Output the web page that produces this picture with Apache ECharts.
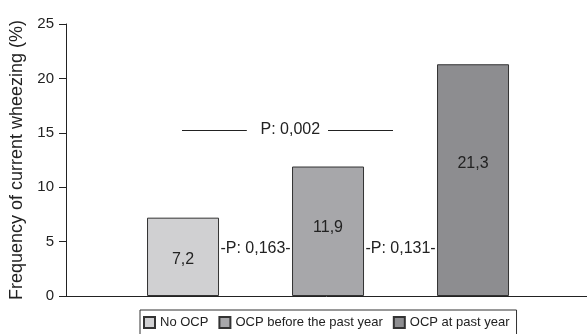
<!DOCTYPE html>
<html>
<head>
<meta charset="utf-8">
<script src="https://cdn.jsdelivr.net/npm/echarts@6/dist/echarts.min.js"></script>
<style>
html,body{margin:0;padding:0;background:#fff;}
#c{width:587px;height:334px;}
</style>
</head>
<body>
<div id="c"></div>
<script>
var categories = ['No OCP', 'OCP before the past year', 'OCP at past year'];
var values = [7.2, 11.9, 21.3];
var valueLabels = ['7,2', '11,9', '21,3'];
var yTicks = [0, 5, 10, 15, 20, 25];
var pLabels = ['-P: 0,163-', '-P: 0,131-', 'P: 0,002'];

var colors = ['#d0d0d2', '#a7a7aa', '#8d8d90'];
var labelOffsets = [[0, 3], [0, -4], [0, -17]];
var FONT = '"Liberation Sans", Arial, Helvetica, sans-serif';

var chart = echarts.init(document.getElementById('c'), null, {renderer: 'canvas'});

var series = categories.map(function (name, i) {
  return {
    name: name,
    type: 'bar',
    barWidth: 72,
    barGap: '-100%',
    data: [[i, values[i]]],
    itemStyle: {color: colors[i], borderColor: '#333', borderWidth: 1},
    label: {
      show: true,
      position: 'inside',
      offset: labelOffsets[i],
      formatter: function () { return valueLabels[i]; },
      color: '#222',
      fontSize: 16,
      fontFamily: FONT
    },
    emphasis: {disabled: true},
    animation: false
  };
});

chart.setOption({
  animation: false,
  textStyle: {fontFamily: FONT},
  grid: {left: 66, right: 0, top: 24, bottom: 38, containLabel: false},
  xAxis: {
    type: 'value',
    min: -0.807,
    max: 2.786,
    splitLine: {show: false},
    axisTick: {show: false},
    axisLabel: {show: false},
    axisLine: {show: true, onZero: false, lineStyle: {color: '#222', width: 1}}
  },
  yAxis: {
    type: 'value',
    min: yTicks[0],
    max: yTicks[yTicks.length - 1],
    interval: yTicks[1] - yTicks[0],
    name: 'Frequency of current wheezing (%)',
    nameLocation: 'middle',
    nameGap: 34,
    nameTextStyle: {fontSize: 18, color: '#222', fontFamily: FONT},
    splitLine: {show: false},
    axisLine: {show: true, onZero: false, lineStyle: {color: '#222', width: 1}},
    axisTick: {show: true, length: 7, lineStyle: {color: '#222'}},
    axisLabel: {fontSize: 15, color: '#222', margin: 12, fontFamily: FONT}
  },
  legend: {
    left: 140,
    top: 310,
    orient: 'horizontal',
    itemWidth: 11,
    itemHeight: 11,
    itemGap: 10,
    itemTextGap: 5,
    padding: [6, 7, 8, 3],
    borderColor: '#333',
    borderWidth: 1,
    icon: 'rect',
    selectedMode: false,
    data: categories,
    textStyle: {fontSize: 13, color: '#222', fontFamily: FONT}
  },
  series: series
});

// P-value annotations anchored in data coordinates
var pAnchors = [[0.5, 4.4], [1.5, 4.4], [0.74, 15.3]];
var lineSegs = [[[-0.007, 15.3], [0.44, 15.3]], [[1.0, 15.3], [1.448, 15.3]]];
function px(p) { return chart.convertToPixel({gridIndex: 0}, p); }
var elements = [];
pLabels.forEach(function (t, i) {
  var p = px(pAnchors[i]);
  elements.push({
    type: 'text', x: p[0], y: p[1], silent: true,
    style: {text: t, fill: '#222', font: '16px ' + FONT, align: 'center', verticalAlign: 'middle'}
  });
});
lineSegs.forEach(function (s) {
  var a = px(s[0]), b = px(s[1]);
  elements.push({
    type: 'line', silent: true,
    shape: {x1: a[0], y1: Math.round(a[1]) + 0.5, x2: b[0], y2: Math.round(b[1]) + 0.5},
    style: {stroke: '#222', lineWidth: 1}
  });
});
chart.setOption({graphic: {elements: elements}});
</script>
</body>
</html>
